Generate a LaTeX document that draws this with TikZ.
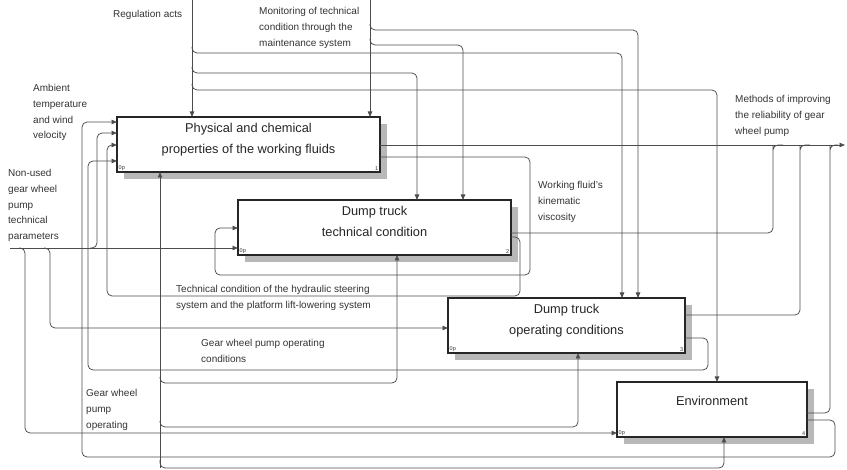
\documentclass[tikz,border=0pt]{standalone}
\usepackage{fontspec}
\setmainfont{Liberation Sans}
\usetikzlibrary{arrows.meta,shadows}

\begin{document}
\begin{tikzpicture}[x=1pt,y=-1pt,
    wire/.style={draw=black!70,line width=.75pt,rounded corners=5pt},
    arr/.style={wire,-{Triangle[length=5.5pt,width=4.5pt]}},
    fbox/.style={draw=black!85,line width=1.6pt,fill=white,anchor=north west,
      inner sep=0pt,outer sep=0pt,minimum height=55pt,
      drop shadow={shadow xshift=7pt,shadow yshift=-7pt,fill=black!28,opacity=1}},
    fname/.style={font=\fontsize{12.8}{21}\selectfont,align=center,text=black!85,
      anchor=north,yshift=-6pt,inner sep=0pt},
    fnum/.style={font=\fontsize{5.5}{6}\selectfont,text=black!80,inner sep=1.5pt},
    txt/.style={font=\fontsize{10}{15.8}\selectfont,align=left,text=black!80,
      inner sep=0pt,anchor=north west}]
  \useasboundingbox (0,0) rectangle (847,470);

  % activity boxes
  \node[fbox,minimum width=263pt,
    label={[fname]north:{Physical and chemical\\properties of the working fluids}},
    label={[fnum,anchor=south west]south west:0p},
    label={[fnum,anchor=south east]south east:1}] (b1) at (117,117) {};
  \node[fbox,minimum width=273pt,
    label={[fname]north:{Dump truck\\technical condition}},
    label={[fnum,anchor=south west]south west:0p},
    label={[fnum,anchor=south east]south east:2}] (b2) at (238,200) {};
  \node[fbox,minimum width=237pt,
    label={[fname]north:{Dump truck\\operating conditions}},
    label={[fnum,anchor=south west]south west:0p},
    label={[fnum,anchor=south east]south east:3}] (b3) at (448,298) {};
  \node[fbox,minimum width=190pt,
    label={[fname,yshift=-8pt]north:{Environment}},
    label={[fnum,anchor=south west]south west:0p},
    label={[fnum,anchor=south east]south east:4}] (b4) at (617,382) {};

  % controls from above
  \coordinate (reg) at (192,0);
  \coordinate (mon) at (370,0);
  \draw[arr] (reg) -- (reg |- b1.north);
  \draw[arr] (mon) -- (mon |- b1.north);
  \draw[arr] (192,47) |- (300,53) -| ([xshift=174pt]b3.north west);
  \draw[arr] (192,67) |- (300,73) -| ([xshift=179pt]b2.north west);
  \draw[arr] (192,84) |- (300,90) -| ([xshift=100pt]b4.north west);
  \draw[arr] (370,24) |- (500,30) -| ([xshift=190pt]b3.north west);
  \draw[arr] (370,39) |- (420,45) -| ([xshift=225pt]b2.north west);

  % outputs
  \coordinate (out) at (845,145);
  \draw[arr] ([yshift=-28pt]b1.north east) -- (out);
  \draw[arr] ([yshift=-40pt]b1.north east) -| (530,275) -| (215,240)
    |- ([yshift=-28pt]b2.north west);
  \draw[wire] ([yshift=-33pt]b2.north east) -| (773,150) |- (783,145);
  \draw[arr] ([yshift=-37pt]b2.north east) -| (520,296) -| (107,200)
    |- ([yshift=-28pt]b1.north west);
  \draw[wire] ([yshift=-17pt]b3.north east) -| (800,150) |- (810,145);
  \draw[arr] ([yshift=-40pt]b3.north east) -| (708,370) -| (88,300)
    |- ([yshift=-44pt]b1.north west);
  \draw[wire] ([yshift=-31pt]b4.north east) -| (830,150) |- (838,145);
  \draw[arr] ([yshift=-38pt]b4.north east) -| (835,457) -| (82,300)
    |- ([yshift=-5pt]b1.north west);

  % inputs from the left
  \coordinate (src) at (10,248);
  \draw[arr] (src) -- ([yshift=-48pt]b2.north west);
  \draw[arr] (90,248) -| (97,200) |- ([yshift=-16pt]b1.north west);
  \draw[arr] (44,248) -| (50,300) |- ([yshift=-30pt]b3.north west);
  \draw[arr] (19,248) -| (25,300) |- ([yshift=-51pt]b4.north west);

  % mechanisms
  \coordinate (mech) at (160,468);
  \draw[arr] (mech) -- (mech |- b1.south);
  \draw[arr] (160,460) |- (300,468) -| ([xshift=107pt]b4.south west);
  \draw[arr] (160,421) |- (300,427) -| ([xshift=130pt]b3.south west);
  \draw[arr] (160,377) |- (300,383) -| ([xshift=159pt]b2.south west);

  % arrow labels
  \node[txt] (treg) at (113,10) {Regulation acts};
  \node[txt] (tmon) at (259,7) {Monitoring of technical\\condition through the\\maintenance system};
  \node[txt] (tamb) at (33,84) {Ambient\\temperature\\and wind\\velocity};
  \node[txt] (tpar) at (8,169) {Non-used\\gear wheel\\pump\\technical\\parameters};
  \node[txt] (tvis) at (538,181) {Working fluid's\\kinematic\\viscosity};
  \node[txt] (tmeth) at (735,95) {Methods of improving\\the reliability of gear\\wheel pump};
  \node[txt] (thyd) at (176,285) {Technical condition of the hydraulic steering\\system and the platform lift-lowering system};
  \node[txt] (tcond) at (201,339) {Gear wheel pump operating\\conditions};
  \node[txt] (toper) at (86,389) {Gear wheel\\pump\\operating};
\end{tikzpicture}
\end{document}
